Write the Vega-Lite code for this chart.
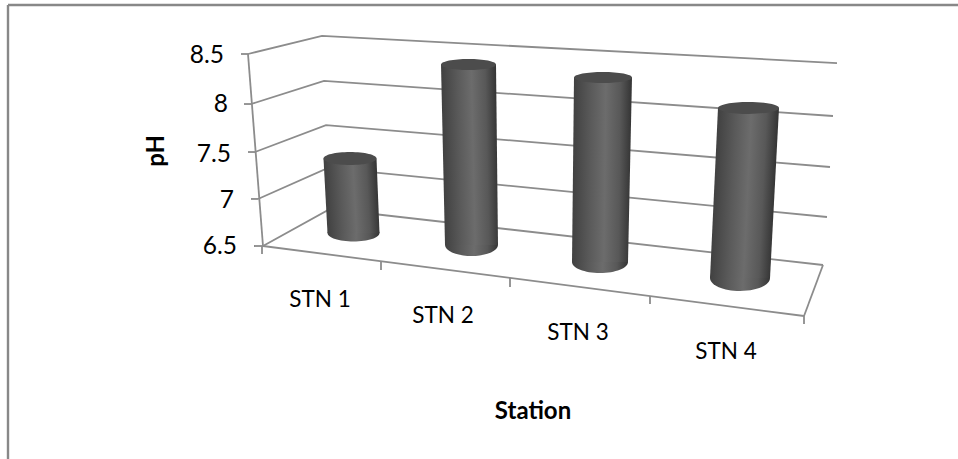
{
  "$schema": "https://vega.github.io/schema/vega-lite/v6.json",
  "width": 958,
  "height": 459,
  "padding": 0,
  "autosize": {"type": "none"},
  "background": "#ffffff",
  "config": {"view": {"stroke": null}},
  "datasets": {
    "frame": [
      {"edge": "left", "across": 8, "level": 9.01},
      {"edge": "left", "across": 8, "level": 4.281},
      {"edge": "top", "across": 8, "level": 9.01},
      {"edge": "top", "across": 958, "level": 9.01}
    ],
    "walls": [
      {"line": "8.5", "across": 248, "level": 8.5},
      {"line": "8.5", "across": 322, "level": 8.688},
      {"line": "8.5", "across": 837, "level": 8.406},
      {"line": "8", "across": 251, "level": 7.979},
      {"line": "8", "across": 324, "level": 8.219},
      {"line": "8", "across": 833, "level": 7.854},
      {"line": "7.5", "across": 255, "level": 7.479},
      {"line": "7.5", "across": 326, "level": 7.76},
      {"line": "7.5", "across": 830, "level": 7.323},
      {"line": "7", "across": 258, "level": 6.99},
      {"line": "7", "across": 328, "level": 7.313},
      {"line": "7", "across": 827, "level": 6.802},
      {"line": "6.5", "across": 263, "level": 6.5},
      {"line": "6.5", "across": 330, "level": 6.885},
      {"line": "6.5", "across": 823, "level": 6.302},
      {"line": "axis", "across": 248, "level": 8.5},
      {"line": "axis", "across": 263, "level": 6.5},
      {"line": "front", "across": 263, "level": 6.5},
      {"line": "front", "across": 804, "level": 5.771},
      {"line": "side", "across": 804, "level": 5.771},
      {"line": "side", "across": 823, "level": 6.302},
      {"line": "t8.5", "across": 241, "level": 8.5},
      {"line": "t8.5", "across": 248, "level": 8.5},
      {"line": "t8", "across": 244, "level": 7.979},
      {"line": "t8", "across": 251, "level": 7.979},
      {"line": "t7.5", "across": 248, "level": 7.479},
      {"line": "t7.5", "across": 255, "level": 7.479},
      {"line": "t7", "across": 251, "level": 6.99},
      {"line": "t7", "across": 258, "level": 6.99},
      {"line": "t6.5", "across": 254, "level": 6.5},
      {"line": "t6.5", "across": 263, "level": 6.5},
      {"line": "c0", "across": 262, "level": 6.5},
      {"line": "c0", "across": 262, "level": 6.417},
      {"line": "c1", "across": 381, "level": 6.333},
      {"line": "c1", "across": 381, "level": 6.25},
      {"line": "c2", "across": 510, "level": 6.167},
      {"line": "c2", "across": 510, "level": 6.073},
      {"line": "c3", "across": 650, "level": 5.979},
      {"line": "c3", "across": 650, "level": 5.896},
      {"line": "c4", "across": 804, "level": 5.771},
      {"line": "c4", "across": 804, "level": 5.688}
    ],
    "sides": [
      {"station": "STN 1", "pH": 7.3, "across": 323.5, "acrossRight": 376.5, "level": 7.411},
      {"station": "STN 1", "pH": 7.3, "across": 327.5, "acrossRight": 379.5, "level": 6.635},
      {"station": "STN 2", "pH": 8.4, "across": 441, "acrossRight": 496, "level": 8.391},
      {"station": "STN 2", "pH": 8.4, "across": 445, "acrossRight": 498, "level": 6.51},
      {"station": "STN 3", "pH": 8.4, "across": 574, "acrossRight": 632, "level": 8.255},
      {"station": "STN 3", "pH": 8.4, "across": 572, "acrossRight": 628, "level": 6.333},
      {"station": "STN 4", "pH": 8.3, "across": 718, "acrossRight": 779, "level": 7.938},
      {"station": "STN 4", "pH": 8.3, "across": 710, "acrossRight": 770, "level": 6.167}
    ],
    "caps": [
      {"cap": "STN 1 base", "end": "base", "across": 353.5, "level": 6.635},
      {"cap": "STN 2 base", "end": "base", "across": 471.5, "level": 6.51},
      {"cap": "STN 3 base", "end": "base", "across": 600, "level": 6.333},
      {"cap": "STN 4 base", "end": "base", "across": 740, "level": 6.167},
      {"cap": "STN 1 top", "end": "top", "across": 350, "level": 7.411},
      {"cap": "STN 2 top", "end": "top", "across": 468.5, "level": 8.391},
      {"cap": "STN 3 top", "end": "top", "across": 603, "level": 8.255},
      {"cap": "STN 4 top", "end": "top", "across": 748.5, "level": 7.938}
    ],
    "tickLabels": [
      {"label": "8.5", "across": 224, "level": 8.479},
      {"label": "8", "across": 228, "level": 7.969},
      {"label": "7.5", "across": 231, "level": 7.448},
      {"label": "7", "across": 234, "level": 6.969},
      {"label": "6.5", "across": 237, "level": 6.49}
    ],
    "stationLabels": [
      {"label": "STN 1", "across": 320, "level": 5.938},
      {"label": "STN 2", "across": 443, "level": 5.771},
      {"label": "STN 3", "across": 578, "level": 5.594},
      {"label": "STN 4", "across": 726, "level": 5.396}
    ],
    "xTitle": [{"label": "Station", "across": 533, "level": 4.771}],
    "yTitle": [{"label": "pH", "across": 157, "level": 7.49}]
  },
  "encoding": {
    "x": {"field": "across", "type": "quantitative", "axis": null, "stack": null,
      "scale": {"domain": [0, 958], "nice": false, "zero": false}},
    "y": {"field": "level", "type": "quantitative", "axis": null, "stack": null,
      "scale": {"domain": [4.28125, 9.0625], "nice": false, "zero": false}}
  },
  "layer": [
    {
      "data": {"name": "frame"},
      "mark": {"type": "line", "color": "#888888", "strokeWidth": 2.4},
      "encoding": {"detail": {"field": "edge"}}
    },
    {
      "data": {"name": "walls"},
      "mark": {"type": "line", "color": "#8c8c8c", "strokeWidth": 1.8},
      "encoding": {"detail": {"field": "line"}}
    },
    {
      "data": {"name": "caps"},
      "transform": [{"filter": "datum.end === 'base'"}],
      "mark": {
        "type": "point", "filled": true, "size": 4, "opacity": 1, "strokeWidth": 0,
        "fill": {"gradient": "linear", "x1": 0, "x2": 1, "y1": 0, "y2": 0,
          "stops": [
            {"offset": 0, "color": "#414141"},
            {"offset": 0.3, "color": "#5a5a5a"},
            {"offset": 0.55, "color": "#6c6c6c"},
            {"offset": 0.8, "color": "#585858"},
            {"offset": 1, "color": "#343434"}
          ]}
      },
      "encoding": {
        "shape": {"field": "cap", "type": "nominal", "legend": null,
          "scale": {
            "domain": ["STN 1 base", "STN 2 base", "STN 3 base", "STN 4 base", "STN 1 top", "STN 2 top", "STN 3 top", "STN 4 top"],
            "range": [
              "M-26 0A26 8.5 0 1 0 26 0A26 8.5 0 1 0 -26 0Z",
              "M-26.5 0A26.5 11 0 1 0 26.5 0A26.5 11 0 1 0 -26.5 0Z",
              "M-28 0A28 11 0 1 0 28 0A28 11 0 1 0 -28 0Z",
              "M-30 0A30 13 0 1 0 30 0A30 13 0 1 0 -30 0Z",
              "M-26.5 0A26.5 6.5 0 1 0 26.5 0A26.5 6.5 0 1 0 -26.5 0Z",
              "M-27.5 0A27.5 5.5 0 1 0 27.5 0A27.5 5.5 0 1 0 -27.5 0Z",
              "M-29 0A29 5.5 0 1 0 29 0A29 5.5 0 1 0 -29 0Z",
              "M-30.5 0A30.5 6 0 1 0 30.5 0A30.5 6 0 1 0 -30.5 0Z"
            ]
          }}
      }
    },
    {
      "data": {"name": "sides"},
      "transform": [{"filter": "datum.station === 'STN 1'"}],
      "mark": {
        "type": "area", "orient": "horizontal", "opacity": 1,
        "fill": {"gradient": "linear", "x1": 0, "y1": 0, "x2": 0.941, "y2": -0.067,
          "stops": [
            {"offset": 0, "color": "#414141"},
            {"offset": 0.3, "color": "#5a5a5a"},
            {"offset": 0.55, "color": "#6c6c6c"},
            {"offset": 0.8, "color": "#585858"},
            {"offset": 1, "color": "#343434"}
          ]}
      },
      "encoding": {"x2": {"field": "acrossRight"}}
    },
    {
      "data": {"name": "sides"},
      "transform": [{"filter": "datum.station === 'STN 2'"}],
      "mark": {
        "type": "area", "orient": "horizontal", "opacity": 1,
        "fill": {"gradient": "linear", "x1": 0, "y1": 0, "x2": 0.96, "y2": -0.067,
          "stops": [
            {"offset": 0, "color": "#414141"},
            {"offset": 0.3, "color": "#5a5a5a"},
            {"offset": 0.55, "color": "#6c6c6c"},
            {"offset": 0.8, "color": "#585858"},
            {"offset": 1, "color": "#343434"}
          ]}
      },
      "encoding": {"x2": {"field": "acrossRight"}}
    },
    {
      "data": {"name": "sides"},
      "transform": [{"filter": "datum.station === 'STN 3'"}],
      "mark": {
        "type": "area", "orient": "horizontal", "opacity": 1,
        "fill": {"gradient": "linear", "x1": 0.033, "y1": 0, "x2": 0.999, "y2": 0.032,
          "stops": [
            {"offset": 0, "color": "#414141"},
            {"offset": 0.3, "color": "#5a5a5a"},
            {"offset": 0.55, "color": "#6c6c6c"},
            {"offset": 0.8, "color": "#585858"},
            {"offset": 1, "color": "#343434"}
          ]}
      },
      "encoding": {"x2": {"field": "acrossRight"}}
    },
    {
      "data": {"name": "sides"},
      "transform": [{"filter": "datum.station === 'STN 4'"}],
      "mark": {
        "type": "area", "orient": "horizontal", "opacity": 1,
        "fill": {"gradient": "linear", "x1": 0.116, "y1": 0, "x2": 0.988, "y2": 0.101,
          "stops": [
            {"offset": 0, "color": "#414141"},
            {"offset": 0.3, "color": "#5a5a5a"},
            {"offset": 0.55, "color": "#6c6c6c"},
            {"offset": 0.8, "color": "#585858"},
            {"offset": 1, "color": "#343434"}
          ]}
      },
      "encoding": {"x2": {"field": "acrossRight"}}
    },
    {
      "data": {"name": "caps"},
      "transform": [{"filter": "datum.end === 'top'"}],
      "mark": {"type": "point", "filled": true, "size": 4, "opacity": 1, "strokeWidth": 0, "fill": "#4c4c4c"},
      "encoding": {
        "shape": {"field": "cap", "type": "nominal", "legend": null}
      }
    },
    {
      "data": {"name": "tickLabels"},
      "mark": {"type": "text", "align": "right", "baseline": "middle", "font": "Lato", "fontSize": 24.5, "color": "#000000"},
      "encoding": {"text": {"field": "label"}}
    },
    {
      "data": {"name": "stationLabels"},
      "mark": {"type": "text", "align": "center", "baseline": "middle", "font": "Lato", "fontSize": 22.5, "color": "#000000"},
      "encoding": {"text": {"field": "label"}}
    },
    {
      "data": {"name": "xTitle"},
      "mark": {"type": "text", "align": "center", "baseline": "middle", "font": "Lato", "fontWeight": "bold", "fontSize": 24, "color": "#000000"},
      "encoding": {"text": {"field": "label"}}
    },
    {
      "data": {"name": "yTitle"},
      "mark": {"type": "text", "align": "center", "baseline": "middle", "angle": 270, "font": "Lato", "fontWeight": "bold", "fontSize": 24, "color": "#000000"},
      "encoding": {"text": {"field": "label"}}
    }
  ]
}
